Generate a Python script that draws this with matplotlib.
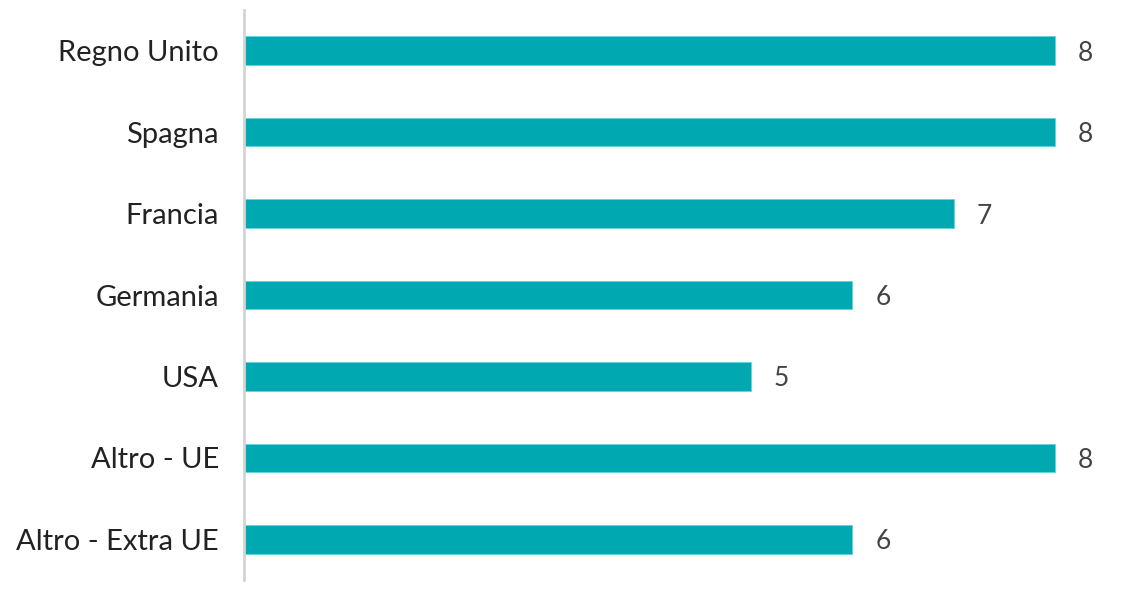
import matplotlib
matplotlib.use("Agg")
import matplotlib.pyplot as plt

# Countries and values, top to bottom as shown
countries = ["Regno Unito", "Spagna", "Francia", "Germania", "USA", "Altro - UE", "Altro - Extra UE"]
values = [8, 8, 7, 6, 5, 8, 6]

plt.rcParams['font.family'] = ['Lato', 'DejaVu Sans']

fig = plt.figure(figsize=(11.34, 5.92), dpi=100)
ax = fig.add_axes([244 / 1134, 12 / 592, 1 - 244 / 1134, 570 / 592])

ypos = list(range(len(countries)))
ax.barh(ypos, values, height=0.35, color="#00A8B1", edgecolor="#5fd6dd", linewidth=0.6)

for y, v in zip(ypos, values):
    ax.text(v + 0.3, y, str(v), va="center_baseline", ha="center", fontsize=19, color="#444444")

ax.set_yticks(ypos)
ax.set_yticklabels(countries, fontsize=21, color="#222222")
ax.tick_params(axis="y", length=0, pad=18)
ax.set_ylim(len(countries) - 0.5, -0.5)
ax.set_xlim(0, (1134 - 244) / 101.4)
ax.set_xticks([])

for side in ["top", "right", "bottom"]:
    ax.spines[side].set_visible(False)
ax.spines["left"].set_color("#d4d4d4")
ax.spines["left"].set_linewidth(2)

fig.savefig("out.png", dpi=100)
